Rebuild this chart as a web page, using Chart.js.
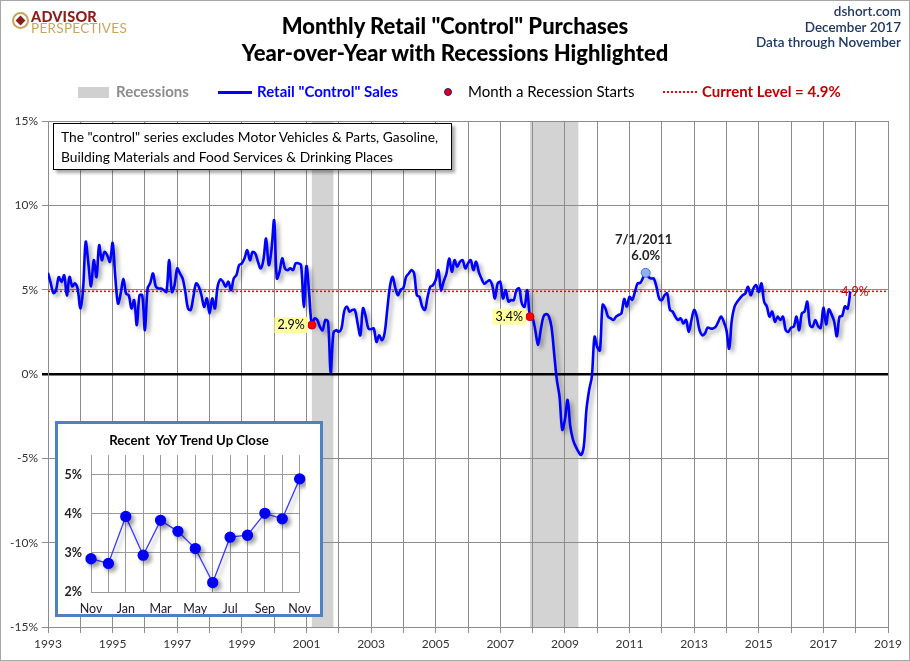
<!DOCTYPE html>
<html>
<head>
<meta charset="utf-8">
<script src="https://cdn.jsdelivr.net/npm/chart.js@4.4.1/dist/chart.umd.min.js"></script>
<style>
  body { margin: 0; background: #fff; font-family: Lato, sans-serif; }
  #page { position: relative; width: 910px; height: 661px; overflow: hidden; }
  #main { position: absolute; left: 0; top: 0; width: 910px; height: 661px; }
  #frame { position: absolute; left: 0; top: 0; width: 908px; height: 659px; border: 1px solid #a6a6a6; pointer-events: none; }
  .abs { position: absolute; white-space: nowrap; }
  #title { left: 0; width: 910px; top: 12px; text-align: center; font-weight: 900; font-size: 22px; line-height: 27px; color: #000; }
  #source { right: 9px; top: 4px; text-align: right; font-size: 13.5px; line-height: 15.5px; color: #1f3864; font-weight: 600; }
  #logo1 { left: 31px; top: 8px; font-size: 14.5px; font-weight: 900; color: #8b1c1c; letter-spacing: 0.2px; }
  #logo2 { left: 31px; top: 20px; font-size: 13.5px; color: #c9a45c; letter-spacing: 0.3px; }
  #compass { left: 12px; top: 12px; width: 13px; height: 13px; border: 2px solid #c9a45c; border-radius: 50%; }
  #compass div { position: absolute; left: 3px; top: 3px; width: 7px; height: 7px; background: #8b1c1c; transform: rotate(45deg); }
  .legend { top: 83px; font-size: 15px; line-height: 17px; }
  .swatch { position: absolute; }
  #note { left: 53px; top: 123px; width: 399px; height: 47px; border: 1px solid #000; background: #fff; box-shadow: 3px 3px 3px rgba(0,0,0,0.35); font-size: 13.8px; line-height: 20px; padding: 3px 0 0 7px; box-sizing: border-box; }
  #inset { left: 55px; top: 421px; width: 268px; height: 196px; border: 3px solid #4f81bd; background: #fff; box-sizing: border-box; }
  #insetTitle { left: 0; width: 262px; top: 8px; text-align: center; font-size: 13.2px; font-weight: bold; }
  #insetCanvasBox { position: absolute; left: 0; top: 0; width: 262px; height: 190px; }
</style>
</head>
<body>
<div id="page">
  <div id="main"><canvas id="mainChart"></canvas></div>

  <div class="abs" id="compass"><div></div></div>
  <div class="abs" id="logo1">ADVISOR</div>
  <div class="abs" id="logo2">PERSPECTIVES</div>

  <div class="abs" id="title">Monthly Retail "Control" Purchases<br>Year-over-Year with Recessions Highlighted</div>
  <div class="abs" id="source">dshort.com<br>December 2017<br>Data through November</div>

  <div class="swatch" style="left:78px;top:87px;width:31px;height:11px;background:#d0d0d0;"></div>
  <div class="abs legend" style="left:116px;font-weight:bold;color:#8c8c8c;">Recessions</div>
  <div class="swatch" style="left:218px;top:91px;width:34px;height:3px;background:#0000ff;"></div>
  <div class="abs legend" style="left:257px;font-weight:bold;color:#0000ff;">Retail "Control" Sales</div>
  <div class="swatch" style="left:444px;top:88px;width:8px;height:8px;border-radius:50%;background:#e00000;border:1px solid #1a1aa0;box-sizing:border-box;"></div>
  <div class="abs legend" style="left:468px;color:#000;">Month a Recession Starts</div>
  <div class="swatch" style="left:663px;top:91px;width:34px;height:0;border-top:2px dotted #ff0000;"></div>
  <div class="abs legend" style="left:702px;font-weight:bold;color:#c00000;">Current Level = 4.9%</div>

  <div class="abs" id="note">The "control" series excludes Motor Vehicles &amp; Parts, Gasoline,<br>Building Materials and Food Services &amp; Drinking Places</div>

  <div class="abs" id="inset">
    <div id="insetCanvasBox"><canvas id="insetChart"></canvas></div>
    <div class="abs" id="insetTitle">Recent&nbsp; YoY Trend Up Close</div>
  </div>

  <div id="frame"></div>
</div>

<script>
// Dados: variação anual (%) mensal, jan/1993 a nov/2017
const startYear = 1993;
const retailControl = [
  // 1993
  6.0, 5.4, 4.8, 5.0, 5.75, 5.45, 5.85, 4.66, 5.75, 5.2, 5.37, 5.07,
  // 1994
  3.89, 4.96, 7.83, 6.55, 5.2, 6.75, 5.75, 7.63, 6.75, 7.24, 7.04, 6.65,
  // 1995
  7.77, 5.75, 4.18, 4.77, 5.65, 4.77, 4.67, 3.89, 4.38, 2.9, 4.67, 4.67,
  // 1996
  2.6, 5.07, 5.4, 5.96, 5.2, 5.07, 5.07, 4.97, 4.87, 6.75, 4.87, 5.27,
  // 1997
  6.26, 5.96, 5.67, 4.87, 3.89, 3.8, 4.58, 5.37, 5.17, 4.67, 3.98, 4.48,
  // 1998
  3.59, 4.48, 3.89, 5.17, 5.6, 5.47, 5.17, 5.47, 4.97, 5.67, 5.87, 6.46,
  // 1999
  6.56, 6.86, 7.34, 6.75, 7.24, 7.14, 6.65, 6.26, 6.75, 8.03, 6.46, 7.34,
  // 2000
  9.11, 5.67, 6.06, 6.86, 6.26, 6.16, 6.26, 6.16, 6.56, 6.56, 6.46, 3.98,
  // 2001
  6.4, 4.77, 2.9, 3.3, 3.2, 2.8, 2.6, 3.2, 3.1, 0.1, 2.4, 2.6,
  // 2002
  2.5, 2.7, 3.7, 4.0, 3.7, 3.8, 3.8, 3.0, 2.3, 3.9, 3.4, 2.7,
  // 2003
  2.65, 2.7, 1.9, 2.3, 2.0, 2.4, 3.8, 5.17, 5.76, 5.1, 4.67, 5.0,
  // 2004
  5.1, 5.76, 5.96, 6.16, 5.96, 4.67, 4.57, 3.98, 3.8, 4.57, 5.17, 5.27,
  // 2005
  5.57, 6.15, 5.0, 5.5, 5.96, 6.85, 6.06, 6.75, 6.36, 6.65, 6.75, 6.26,
  // 2006
  6.56, 6.75, 6.16, 6.65, 6.06, 5.66, 5.36, 5.46, 5.56, 5.27, 4.48, 5.36,
  // 2007
  5.46, 4.48, 4.97, 4.3, 4.38, 4.38, 4.97, 5.07, 4.18, 3.98, 4.97, 3.43,
  // 2008
  3.3, 2.6, 1.72, 2.6, 3.39, 3.55, 3.43, 2.8, 1.22, -0.35, -1.34, -3.3,
  // 2009
  -2.7, -1.54, -3.1, -3.9, -4.3, -4.6, -4.8, -4.3, -2.1, -0.95, -0.15, 2.2,
  // 2010
  1.6, 1.4, 4.1, 3.9, 3.4, 3.3, 3.2, 3.4, 3.5, 3.6, 4.45, 4.0,
  // 2011
  4.57, 4.4, 4.87, 5.37, 5.4, 5.7, 6.0, 5.76, 5.66, 5.66, 5.17, 4.48,
  // 2012
  4.38, 4.67, 4.77, 3.8, 3.7, 3.4, 3.2, 3.3, 3.0, 3.2, 2.5, 3.2,
  // 2013
  3.8, 3.4, 2.6, 2.3, 2.4, 2.75, 2.7, 2.7, 2.8, 3.1, 3.4, 3.1,
  // 2014
  2.6, 1.5, 3.2, 4.0, 4.28, 4.48, 4.67, 4.77, 5.17, 4.67, 5.07, 5.27,
  // 2015
  4.87, 5.37, 4.28, 4.0, 3.4, 3.7, 3.1, 3.4, 3.2, 3.4, 2.6, 2.5,
  // 2016
  2.75, 2.8, 3.4, 2.6, 3.6, 3.7, 4.28, 2.9, 2.8, 3.2, 2.85, 2.73,
  // 2017
  3.93, 2.94, 3.83, 3.55, 3.11, 2.24, 3.40, 3.45, 4.01, 3.87, 4.89
];

// Recessões (mês inicial, mês final)
const recessions = [['2001-03', '2001-11'], ['2007-12', '2009-06']];
// Mês em que a recessão começa
const recessionStarts = [{ month: '2001-03', value: 2.9 }, { month: '2007-12', value: 3.4 }];
// Pico destacado
const peakPoint = { month: '2011-07', label: '7/1/2011', value: 6.0 };
const currentLevel = 4.9;
const xTickYears = [1993, 2019];
const yTicks = [-15, -10, -5, 0, 5, 10, 15];

// Gráfico pequeno: últimos 13 meses
const insetLabels = ['Nov', 'Dec', 'Jan', 'Feb', 'Mar', 'Apr', 'May', 'Jun', 'Jul', 'Aug', 'Sep', 'Oct', 'Nov'];
const insetValues = [2.85, 2.73, 3.93, 2.94, 3.83, 3.55, 3.11, 2.24, 3.40, 3.45, 4.01, 3.87, 4.89];
const insetTicks = [2, 3, 4, 5];

// Converte 'AAAA-MM' para ano decimal
function mesParaAno(m) {
    const partes = m.split('-');
    return Number(partes[0]) + (Number(partes[1]) - 1) / 12;
}

Chart.defaults.font.family = 'Lato, sans-serif';
Chart.defaults.animation = false;

const serie = retailControl.map((v, i) => ({ x: startYear + i / 12, y: v }));

// Sombra da linha azul
const sombraPlugin = {
    id: 'sombra',
    beforeDatasetDraw(chart, args) {
        if (chart.data.datasets[args.index].sombra) {
            const ctx = chart.ctx;
            ctx.save();
            ctx.shadowColor = 'rgba(0,0,0,0.35)';
            ctx.shadowBlur = 4;
            ctx.shadowOffsetX = 3;
            ctx.shadowOffsetY = 3;
        }
    },
    afterDatasetDraw(chart, args) {
        if (chart.data.datasets[args.index].sombra) {
            chart.ctx.restore();
        }
    }
};

// Faixas cinzas das recessões
const recessaoPlugin = {
    id: 'recessao',
    beforeDraw(chart) {
        const { ctx, chartArea, scales } = chart;
        ctx.save();
        ctx.fillStyle = '#d3d3d3';
        recessions.forEach(r => {
            const x1 = scales.x.getPixelForValue(mesParaAno(r[0]));
            const x2 = scales.x.getPixelForValue(mesParaAno(r[1]));
            ctx.fillRect(x1, chartArea.top, x2 - x1, chartArea.bottom - chartArea.top);
        });
        ctx.restore();
    }
};

// Rótulos dentro do gráfico
const rotulosPlugin = {
    id: 'rotulos',
    afterDatasetsDraw(chart) {
        const { ctx, scales } = chart;
        ctx.save();
        ctx.textBaseline = 'middle';

        recessionStarts.forEach(p => {
            const px = scales.x.getPixelForValue(mesParaAno(p.month));
            const py = scales.y.getPixelForValue(p.value);
            const txt = p.value.toFixed(1) + '%';
            ctx.font = '12.5px Lato, sans-serif';
            const w = ctx.measureText(txt).width;
            ctx.fillStyle = 'rgba(255,255,150,0.9)';
            ctx.fillRect(px - 6 - w - 4, py - 8, w + 6, 16);
            ctx.fillStyle = '#000';
            ctx.textAlign = 'right';
            ctx.fillText(txt, px - 7, py);
        });

        const pkx = scales.x.getPixelForValue(mesParaAno(peakPoint.month));
        const pky = scales.y.getPixelForValue(peakPoint.value);
        ctx.font = 'bold 13px Lato, sans-serif';
        ctx.fillStyle = '#222';
        ctx.textAlign = 'center';
        ctx.fillText(peakPoint.label, pkx - 2, pky - 33);
        ctx.fillText(peakPoint.value.toFixed(1) + '%', pkx, pky - 17);

        const ultimo = serie[serie.length - 1];
        const lx = scales.x.getPixelForValue(ultimo.x);
        const ly = scales.y.getPixelForValue(currentLevel);
        ctx.font = '12.5px Lato, sans-serif';
        ctx.fillStyle = '#c00000';
        ctx.textAlign = 'left';
        ctx.fillText(currentLevel.toFixed(1) + '%', lx - 9, ly + 1);
        ctx.restore();
    }
};

function inicializarGrafico() {
    const ctxMain = document.getElementById('mainChart').getContext('2d');
    new Chart(ctxMain, {
        type: 'line',
        data: {
            datasets: [
                {
                    label: 'Month a Recession Starts',
                    data: recessionStarts.map(p => ({ x: mesParaAno(p.month), y: p.value })),
                    showLine: false,
                    pointRadius: 4,
                    pointBackgroundColor: '#ff0000',
                    pointBorderColor: '#cc0000',
                    pointBorderWidth: 1,
                    order: 0
                },
                {
                    label: 'Peak',
                    data: [{ x: mesParaAno(peakPoint.month), y: peakPoint.value }],
                    showLine: false,
                    pointRadius: 4.5,
                    pointBackgroundColor: '#8fb0ff',
                    pointBorderColor: '#4a70e0',
                    pointBorderWidth: 1,
                    order: 1
                },
                {
                    label: 'Retail "Control" Sales',
                    data: serie,
                    borderColor: '#0000ff',
                    borderWidth: 2.6,
                    pointRadius: 0,
                    tension: 0.35,
                    fill: false,
                    sombra: true,
                    order: 2
                },
                {
                    label: 'Current Level',
                    data: xTickYears.map(x => ({ x: x, y: currentLevel })),
                    borderColor: '#ff0000',
                    borderWidth: 1.5,
                    borderDash: [2, 2],
                    pointRadius: 0,
                    fill: false,
                    order: 3
                }
            ]
        },
        options: {
            responsive: true,
            maintainAspectRatio: false,
            layout: { padding: { top: 121, right: 22, left: 0, bottom: 0 } },
            plugins: { legend: { display: false }, tooltip: { enabled: false } },
            scales: {
                x: {
                    type: 'linear',
                    min: xTickYears[0],
                    max: xTickYears[1],
                    afterFit: s => { s.height = 34; },
                    grid: { color: '#8c8c8c', lineWidth: 1, tickLength: 6 },
                    border: { color: '#8c8c8c' },
                    ticks: {
                        stepSize: 1,
                        autoSkip: false,
                        maxRotation: 0,
                        padding: 4,
                        color: '#333',
                        font: { size: 12 },
                        callback: v => ((v - startYear) % 2 === 0 ? String(v) : '')
                    }
                },
                y: {
                    min: yTicks[0],
                    max: yTicks[yTicks.length - 1],
                    afterFit: s => { s.width = 48; },
                    grid: {
                        color: c => (c.tick && c.tick.value === 0 ? '#000' : '#8c8c8c'),
                        lineWidth: c => (c.tick && c.tick.value === 0 ? 2.5 : 1),
                        tickLength: 6
                    },
                    border: { color: '#8c8c8c' },
                    ticks: {
                        stepSize: 5,
                        padding: 4,
                        color: '#333',
                        font: { size: 12 },
                        callback: v => v + '%'
                    }
                }
            }
        },
        plugins: [recessaoPlugin, sombraPlugin, rotulosPlugin]
    });

    // Gráfico pequeno (últimos 13 meses)
    const ctxInset = document.getElementById('insetChart').getContext('2d');
    new Chart(ctxInset, {
        type: 'line',
        data: {
            labels: insetLabels,
            datasets: [{
                data: insetValues,
                borderColor: '#3a3aff',
                borderWidth: 1.3,
                pointRadius: 5,
                pointBackgroundColor: '#0000ff',
                pointBorderColor: '#0000ff',
                tension: 0,
                sombra: true
            }]
        },
        options: {
            responsive: true,
            maintainAspectRatio: false,
            layout: { padding: { top: 31, right: 17, left: 0, bottom: 0 } },
            plugins: { legend: { display: false }, tooltip: { enabled: false } },
            scales: {
                x: {
                    afterFit: s => { s.height = 22; },
                    grid: { color: '#9a9a9a', tickLength: 0 },
                    border: { display: false },
                    ticks: {
                        autoSkip: false,
                        maxRotation: 0,
                        padding: 9,
                        color: '#222',
                        font: { size: 12.5 },
                        callback: (v, i) => (i % 2 === 0 ? insetLabels[i] : '')
                    }
                },
                y: {
                    min: insetTicks[0],
                    max: 5.5,
                    afterFit: s => { s.width = 33; },
                    grid: {
                        color: c => (c.tick && c.tick.value > insetTicks[insetTicks.length - 1] ? 'rgba(0,0,0,0)' : '#9a9a9a'),
                        tickLength: 0
                    },
                    border: { display: false },
                    ticks: {
                        stepSize: 1,
                        padding: 9,
                        color: '#222',
                        font: { size: 12.5, weight: 'bold' },
                        callback: v => (insetTicks.includes(v) ? v + '%' : '')
                    }
                }
            }
        },
        plugins: [sombraPlugin]
    });
}

document.addEventListener('DOMContentLoaded', inicializarGrafico);
</script>
</body>
</html>
